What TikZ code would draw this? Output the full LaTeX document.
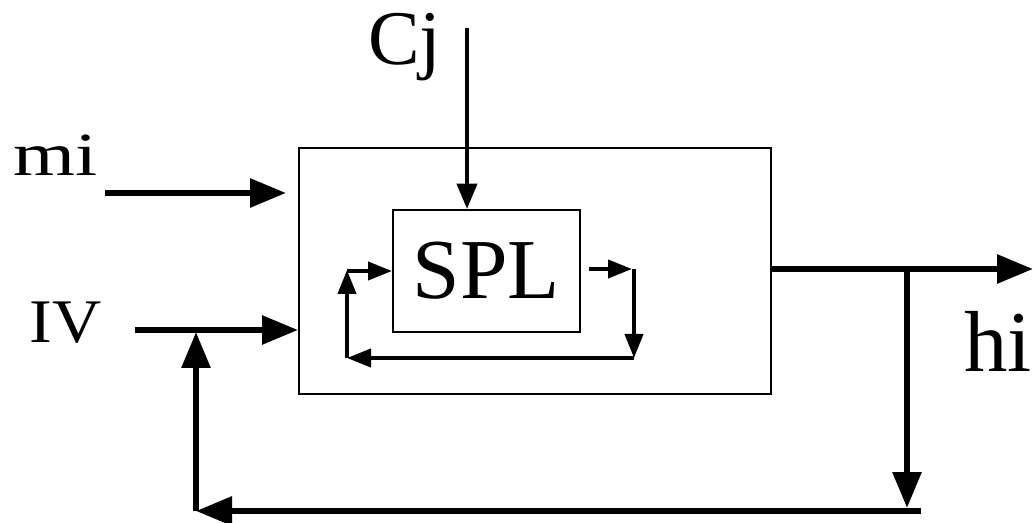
\documentclass[tikz,border=0pt]{standalone}
\usepackage{fontspec}
\setmainfont{Liberation Serif}
\usetikzlibrary{arrows.meta}
\begin{document}
\begin{tikzpicture}[x=0.75pt,y=-0.75pt,
  box/.style={draw,line width=1.5pt,inner sep=0pt,anchor=north west},
  lbl/.style={inner sep=0pt,anchor=base west},
  bigarrow/.style={line width=4.5pt,-{Triangle[length=27pt,width=21pt]}},
  bigline/.style={line width=4.5pt},
  midarrow/.style={line width=3pt,-{Triangle[length=19pt,width=15pt]}},
  smallarrow/.style={line width=3pt,-{Triangle[length=18pt,width=13.5pt]}}]
\useasboundingbox (0,0) rectangle (1034,523);
% boxes
\node[box,minimum width=354pt,minimum height=184.5pt] (outer) at (298,147) {};
\node[box,minimum width=140.25pt,minimum height=91.5pt] (spl) at (392,209) {};
\node[inner sep=0pt,font=\fontsize{64pt}{64pt}\selectfont] (spltext) at (spl.center) {SPL};
% labels
\node[lbl,font=\fontsize{58pt}{58pt}\selectfont] (cj) at (368,65) {Cj};
\node[lbl,font=\fontsize{46pt}{46pt}\selectfont,xscale=1.3] (mi) at (13,176) {mi};
\node[lbl,font=\fontsize{46.5pt}{46.5pt}\selectfont,xscale=1.1] (iv) at (29,343) {IV};
\node[lbl,font=\fontsize{65pt}{65pt}\selectfont] (hi) at (964,372) {hi};
% coordinates
\coordinate (cjtop) at (467,28);
\coordinate (mistart) at (105,193);
\coordinate (mitip) at (286,193);
\coordinate (ivstart) at (135,330);
\coordinate (branch) at (907,269);
\coordinate (hiend) at (1033,269);
\coordinate (brdown) at (907,508);
\coordinate (botright) at (921,511);
\coordinate (botleft) at (196,511);
\coordinate (upend) at (196,332);
\coordinate (l1) at (589,269);
\coordinate (l2) at (632,269);
\coordinate (l3) at (634,269);
\coordinate (l4) at (634,358);
\coordinate (l5) at (347,358);
\coordinate (l6) at (347,270);
% connectors
\draw[midarrow] (cjtop) -- (cjtop |- spl.north);
\draw[bigarrow] (mistart) -- (mitip);
\draw[bigarrow] (ivstart) -- (ivstart -| outer.west);
\draw[bigline] (outer.east |- branch) -- (branch);
\draw[bigarrow] (branch) -- (hiend);
\draw[bigarrow] (branch) -- (brdown);
\draw[bigarrow] (botright) -- (botleft);
\draw[bigarrow] (botleft) -- (upend);
\draw[smallarrow] (l1) -- (l2);
\draw[smallarrow] (l3) -- (l4);
\draw[smallarrow] (l4) -- (l5);
\draw[smallarrow] (l5) -- (l6);
\draw[smallarrow] (l5 |- spl.west) -- (spl.west);
\end{tikzpicture}
\end{document}
